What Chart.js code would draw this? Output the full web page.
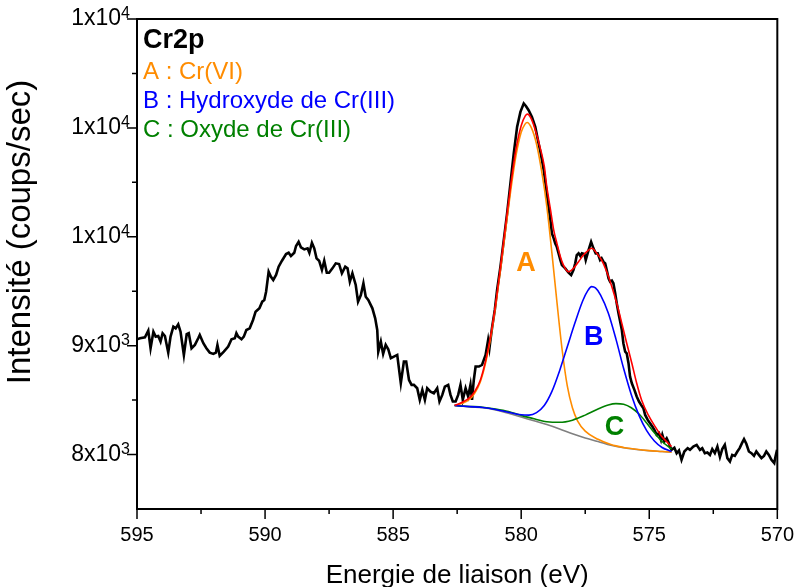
<!DOCTYPE html>
<html lang="fr">
<head>
<meta charset="utf-8">
<title>Cr2p</title>
<script src="https://cdn.jsdelivr.net/npm/chart.js@4.4.1/dist/chart.umd.min.js"></script>
<style>
  html, body { margin: 0; padding: 0; background: #fff; overflow: hidden; }
  #wrap { width: 798px; height: 600px; }
</style>
</head>
<body>
<div id="wrap"><canvas id="xps" width="798" height="600"></canvas></div>
<script>
// spectre mesuré (énergie de liaison en eV, coups/sec)
const expEnergy = [
  595.00, 594.88, 594.69, 594.56, 594.47, 594.36, 594.27, 594.17, 594.08, 594.00,
  593.91, 593.78, 593.69, 593.58, 593.49, 593.39, 593.30, 593.17, 593.06, 592.98,
  592.87, 592.74, 592.61, 592.55, 592.41, 592.29, 592.16, 592.02, 591.92, 591.86,
  591.77, 591.61, 591.44, 591.31, 591.18, 591.12, 591.05, 590.92, 590.83, 590.73,
  590.60, 590.47, 590.37, 590.22, 590.11, 590.03, 589.96, 589.86, 589.77, 589.68,
  589.57, 589.47, 589.34, 589.18, 589.08, 588.99, 588.86, 588.79, 588.69, 588.60,
  588.47, 588.34, 588.27, 588.17, 588.08, 587.99, 587.89, 587.78, 587.69, 587.59,
  587.50, 587.37, 587.24, 587.11, 587.00, 586.87, 586.78, 586.69, 586.59, 586.46,
  586.37, 586.26, 586.16, 586.07, 585.97, 585.81, 585.70, 585.62, 585.58, 585.48,
  585.39, 585.29, 585.19, 585.09, 584.97, 584.84, 584.70, 584.58, 584.49, 584.38,
  584.28, 584.19, 584.06, 583.96, 583.86, 583.76, 583.67, 583.54, 583.41, 583.28,
  583.19, 583.08, 582.98, 582.85, 582.76, 582.67, 582.56, 582.46, 582.37, 582.28,
  582.17, 582.07, 581.98, 581.92, 581.85, 581.78, 581.65, 581.53, 581.39, 581.29,
  581.24, 581.20, 581.14, 581.03, 580.94, 580.81, 580.68, 580.55, 580.42, 580.29,
  580.16, 580.03, 579.90, 579.81, 579.71, 579.58, 579.45, 579.32, 579.25, 579.19,
  579.12, 579.06, 579.00, 578.93, 578.86, 578.80, 578.73, 578.67, 578.61, 578.54,
  578.47, 578.41, 578.28, 578.15, 578.05, 577.96, 577.89, 577.83, 577.76, 577.69,
  577.63, 577.53, 577.48, 577.37, 577.27, 577.18, 577.09, 577.01, 576.92, 576.86,
  576.79, 576.72, 576.66, 576.59, 576.53, 576.46, 576.40, 576.33, 576.27, 576.20,
  576.07, 576.01, 575.94, 575.88, 575.81, 575.75, 575.68, 575.58, 575.49, 575.40,
  575.32, 575.23, 575.16, 575.06, 574.97, 574.88, 574.80, 574.71, 574.62, 574.54,
  574.49, 574.41, 574.32, 574.26, 574.19, 574.13, 574.02, 573.93, 573.84, 573.74,
  573.63, 573.50, 573.41, 573.28, 573.15, 573.02, 572.93, 572.83, 572.73, 572.63,
  572.54, 572.44, 572.34, 572.24, 572.15, 572.05, 571.95, 571.85, 571.76, 571.66,
  571.56, 571.47, 571.38, 571.30, 571.21, 571.11, 571.01, 570.91, 570.82, 570.72,
  570.62, 570.52, 570.43, 570.33, 570.23, 570.12, 570.07, 570.01
];
const expCounts = [
  9059, 9068, 9077, 9138, 8976, 9128, 9083, 9089, 9037, 9114,
  9089, 8936, 9083, 9174, 9159, 9196, 9128, 8914, 9105, 9114,
  8976, 9007, 9068, 9098, 9022, 8976, 8936, 8924, 8936, 9007,
  8906, 8945, 8991, 9059, 9068, 9114, 9083, 9059, 9083, 9144,
  9159, 9236, 9312, 9343, 9404, 9419, 9496, 9679, 9633, 9603,
  9649, 9725, 9780, 9841, 9853, 9823, 9853, 9915, 9954, 9903,
  9884, 9894, 9853, 9945, 9894, 9802, 9780, 9695, 9780, 9670,
  9670, 9710, 9756, 9750, 9664, 9725, 9710, 9587, 9664, 9557,
  9404, 9465, 9573, 9450, 9419, 9343, 9251, 9144, 8945, 9037,
  8924, 9007, 8967, 8885, 8900, 8915, 8655, 8853, 8853, 8685,
  8640, 8640, 8609, 8502, 8594, 8502, 8609, 8578, 8563, 8609,
  8487, 8548, 8624, 8640, 8548, 8487, 8487, 8548, 8640, 8502,
  8609, 8533, 8640, 8502, 8685, 8808, 8808, 8823, 8915, 9053,
  8976, 9053, 9160, 9328, 9511, 9725, 9970, 10215, 10490, 10765,
  11009, 11147, 11224, 11199, 11162, 11101, 11009, 10857, 10780, 10704,
  10612, 10505, 10398, 10275, 10153, 10031, 9985, 9939, 9908, 9848,
  9786, 9740, 9710, 9670, 9649, 9695, 9756, 9832, 9848, 9823,
  9848, 9841, 9786, 9878, 9954, 9894, 9848, 9848, 9786, 9802,
  9771, 9756, 9695, 9618, 9587, 9597, 9573, 9481, 9389, 9297,
  9144, 9022, 8945, 8930, 8839, 8716, 8655, 8594, 8533, 8487,
  8456, 8426, 8364, 8318, 8288, 8257, 8227, 8181, 8196, 8135,
  8181, 8120, 8150, 8120, 8074, 8043, 8062, 8012, 8037, 7952,
  8028, 8059, 8043, 8074, 8089, 8043, 8059, 8013, 8019, 7997,
  8050, 8013, 8074, 7977, 8050, 8089, 7967, 7936, 7997, 7988,
  8028, 8059, 8105, 8141, 8099, 8028, 8013, 7988, 8028, 7997,
  7967, 7988, 8028, 7997, 7952, 7922, 7982, 8043
];

// décomposition : enveloppe, pics A/B/C et fond de Shirley
const envEnergy = [582.6, 582.3, 582.0, 581.8, 581.6, 581.4, 581.2, 581.0, 580.8, 580.6,
  580.4, 580.2, 580.0, 579.84, 579.75, 579.6, 579.45, 579.25, 579.1, 579.0,
  578.85, 578.73, 578.6, 578.47, 578.35, 578.15, 577.96, 577.76, 577.57, 577.37,
  577.24, 577.05, 576.86, 576.66, 576.46, 576.27, 576.07, 575.88, 575.68, 575.49,
  575.3, 575.04, 574.77, 574.51, 574.26, 574.13];
const envCounts = [8452, 8480, 8525, 8585, 8680, 8850, 9080, 9380, 9740, 10120,
  10490, 10810, 11020, 11110, 11126, 11080, 10980, 10810, 10650, 10460,
  10240, 10062, 9935, 9817, 9740, 9679, 9710, 9771, 9832, 9878,
  9894, 9848, 9786, 9679, 9542, 9389, 9205, 9022, 8839, 8655,
  8502, 8364, 8257, 8165, 8104, 8074];

const peakAEnergy = [582.6, 582.3, 582.0, 581.8, 581.6, 581.4, 581.2, 581.0, 580.8, 580.6,
  580.4, 580.2, 580.0, 579.85, 579.77, 579.6, 579.4, 579.2, 579.0, 578.8,
  578.6, 578.4, 578.2, 578.0, 577.8, 577.5, 577.0, 576.5, 576.0, 575.5,
  575.0, 574.5, 574.13];
const peakACounts = [8450, 8470, 8510, 8570, 8665, 8830, 9060, 9360, 9710, 10080,
  10440, 10750, 10960, 11035, 11050, 11000, 10850, 10600, 10280, 9850,
  9390, 8960, 8630, 8430, 8310, 8215, 8140, 8092, 8065, 8048,
  8036, 8028, 8022];

const peakBEnergy = [582.6, 582.0, 581.5, 581.0, 580.5, 580.0, 579.7, 579.4, 579.1, 578.8,
  578.5, 578.2, 577.9, 577.6, 577.4, 577.25, 577.1, 576.9, 576.6, 576.3,
  576.0, 575.7, 575.4, 575.1, 574.8, 574.5, 574.13];
const peakBCounts = [8450, 8440, 8432, 8414, 8388, 8365, 8362, 8385, 8450, 8580,
  8770, 8990, 9210, 9410, 9505, 9542, 9530, 9465, 9300, 9060,
  8790, 8550, 8360, 8220, 8125, 8065, 8028];

const peakCEnergy = [582.6, 582.0, 581.5, 581.0, 580.5, 580.0, 579.5, 579.0, 578.5, 578.0,
  577.5, 577.0, 576.6, 576.3, 576.0, 575.7, 575.4, 575.1, 574.8, 574.5, 574.13];
const peakCCounts = [8450, 8442, 8435, 8418, 8395, 8360, 8328, 8302, 8296, 8316,
  8362, 8418, 8455, 8468, 8462, 8430, 8372, 8290, 8200, 8120, 8050];

const bgEnergy = [582.6, 582.0, 581.5, 581.0, 580.5, 580.0, 579.5, 579.0, 578.5, 578.0,
  577.5, 577.0, 576.5, 576.0, 575.5, 575.0, 574.5, 574.13];
const bgCounts = [8450, 8437, 8430, 8410, 8380, 8345, 8310, 8275, 8235, 8190,
  8152, 8120, 8085, 8062, 8047, 8035, 8028, 8022];

// axes
const xTickValues = [595, 590, 585, 580, 575, 570];
const xTickLabels = ['595', '590', '585', '580', '575', '570'];
const xMinorTicks = [592.5, 587.5, 582.5, 577.5, 572.5];
const yTickValues = [8000, 9000, 10000, 11000, 12000];
const yTickLabels = ['8x10^3', '9x10^3', '1x10^4', '1x10^4', '1x10^4'];
const yMinorTicks = [8500, 9500, 10500, 11500];

// lettres des pics et légende
const peakLetters = ['A', 'B', 'C'];
const peakLetterE = [579.81, 577.17, 576.36];
const peakLetterI = [9756, 9074, 8251];
const legendLines = ['A : Cr(VI)', 'B : Hydroxyde de Cr(III)', 'C : Oxyde de Cr(III)'];

const ORANGE = '#ff8c00', BLUE = '#0000ff', GREEN = '#008000';
const FONT = "'Liberation Sans', Arial, sans-serif";

const pts = (xs, ys) => xs.map((e, i) => ({ x: e, y: ys[i] }));

const xpsDecor = {
  id: 'xpsDecor',
  afterDatasetsDraw(chart) {
    const { ctx, chartArea: a, scales: { x, y } } = chart;
    const colors = [ORANGE, BLUE, GREEN];
    ctx.save();

    ctx.font = `bold 27px ${FONT}`;
    ctx.textAlign = 'center';
    ctx.textBaseline = 'middle';
    peakLetters.forEach((t, i) => {
      ctx.fillStyle = colors[i];
      ctx.fillText(t, x.getPixelForValue(peakLetterE[i]), y.getPixelForValue(peakLetterI[i]));
    });

    // cadre + graduations
    ctx.strokeStyle = '#000';
    ctx.lineWidth = 2;
    ctx.strokeRect(a.left, a.top, a.right - a.left, a.bottom - a.top);
    ctx.lineWidth = 1.5;
    ctx.beginPath();
    const xt = (v, len) => { const p = x.getPixelForValue(v); ctx.moveTo(p, a.bottom); ctx.lineTo(p, a.bottom + len); };
    const yt = (v, len) => { const p = y.getPixelForValue(v); ctx.moveTo(a.left, p); ctx.lineTo(a.left - len, p); };
    xTickValues.forEach(v => xt(v, 10));
    xMinorTicks.forEach(v => xt(v, 5));
    yTickValues.forEach(v => yt(v, 10));
    yMinorTicks.forEach(v => yt(v, 5));
    ctx.stroke();

    // étiquettes en notation scientifique
    ctx.fillStyle = '#000';
    ctx.textAlign = 'right';
    yTickValues.forEach((v, i) => {
      const [mant, exp] = yTickLabels[i].split('^');
      const py = y.getPixelForValue(v);
      const right = a.left - 7;
      ctx.font = `16px ${FONT}`;
      ctx.textBaseline = 'alphabetic';
      const ew = ctx.measureText(exp).width;
      ctx.fillText(exp, right, py - 1);
      ctx.font = `23px ${FONT}`;
      ctx.textBaseline = 'middle';
      ctx.fillText(mant, right - ew, py);
    });

    // titre vertical
    ctx.save();
    ctx.translate(21, 232);
    ctx.rotate(-Math.PI / 2);
    ctx.textAlign = 'center';
    ctx.font = `33px ${FONT}`;
    ctx.fillText('Intensité (coups/sec)', 0, 0);
    ctx.restore();

    ctx.textAlign = 'left';
    ctx.textBaseline = 'alphabetic';
    ctx.font = `bold 27px ${FONT}`;
    ctx.fillStyle = '#000';
    ctx.fillText('Cr2p', 143, 48);
    ctx.font = `24px ${FONT}`;
    legendLines.forEach((t, i) => {
      ctx.fillStyle = colors[i];
      ctx.fillText(t, 143, 79 + i * 29);
    });
    ctx.restore();
  }
};

const fitLine = (data, color) => ({
  data, borderColor: color, borderWidth: 1.6,
  showLine: true, pointRadius: 0, cubicInterpolationMode: 'monotone'
});

new Chart(document.getElementById('xps'), {
  type: 'scatter',
  data: {
    datasets: [
      fitLine(pts(envEnergy, envCounts), '#ff0000'),
      fitLine(pts(peakBEnergy, peakBCounts), BLUE),
      fitLine(pts(peakCEnergy, peakCCounts), GREEN),
      fitLine(pts(peakAEnergy, peakACounts), ORANGE),
      fitLine(pts(bgEnergy, bgCounts), '#808080'),
      {
        data: pts(expEnergy, expCounts),
        borderColor: '#000', borderWidth: 2.6,
        showLine: true, pointRadius: 0, tension: 0
      }
    ]
  },
  options: {
    responsive: false,
    animation: false,
    layout: { padding: { top: 19, right: 19, left: 0, bottom: 0 } },
    plugins: { legend: { display: false }, tooltip: { enabled: false } },
    scales: {
      x: {
        type: 'linear', reverse: true, min: 570, max: 595,
        afterBuildTicks: s => { s.ticks = xTickValues.map(v => ({ value: v })); },
        afterFit: s => { s.height = 91; },
        ticks: {
          autoSkip: false, maxRotation: 0, padding: 4, color: '#000',
          font: { family: FONT, size: 20 },
          callback: (v, i) => xTickLabels[i]
        },
        grid: { drawOnChartArea: false, tickLength: 10, color: 'rgba(0,0,0,0)' },
        border: { display: false },
        title: {
          display: true, text: 'Energie de liaison (eV)', color: '#000',
          font: { family: FONT, size: 26 }, padding: { top: 0, bottom: 9 }
        }
      },
      y: {
        type: 'linear', min: 7500, max: 12000,
        afterFit: s => { s.width = 137; },
        ticks: { display: false },
        grid: { display: false },
        border: { display: false },
        title: { display: false }
      }
    }
  },
  plugins: [xpsDecor]
});
</script>
</body>
</html>
